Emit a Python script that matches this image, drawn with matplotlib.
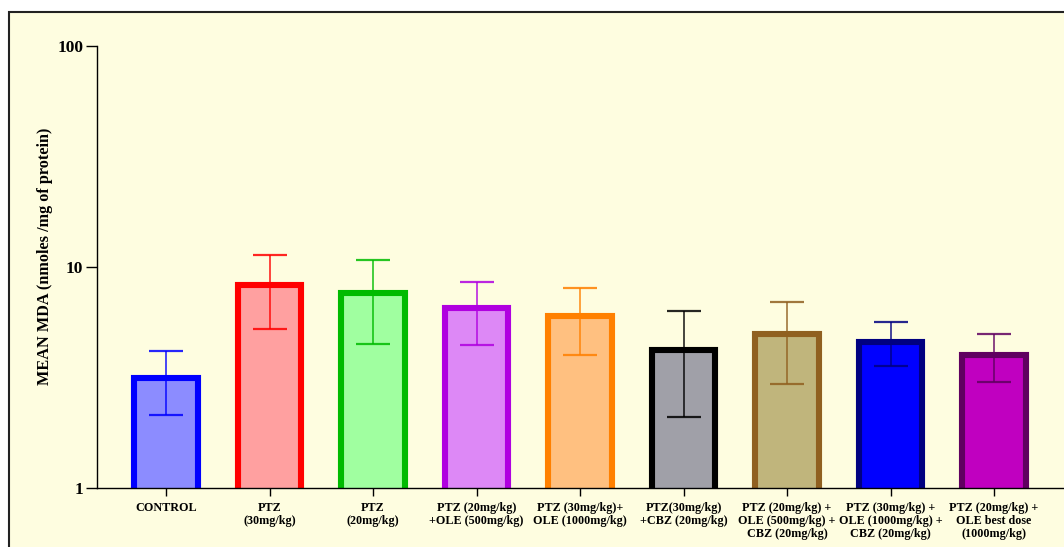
import numpy as np
import matplotlib.pyplot as plt
from matplotlib.patches import Rectangle

plt.rcParams['font.family'] = ['Liberation Serif', 'DejaVu Serif']
plt.rcParams['font.weight'] = 'bold'

groups = ["CONTROL", "PTZ\n(30mg/kg)", "PTZ\n(20mg/kg)",
          "PTZ (20mg/kg)\n+OLE (500mg/kg)", "PTZ (30mg/kg)+\nOLE (1000mg/kg)",
          "PTZ(30mg/kg)\n+CBZ (20mg/kg)",
          "PTZ (20mg/kg) +\nOLE (500mg/kg) +\nCBZ (20mg/kg)",
          "PTZ (30mg/kg) +\nOLE (1000mg/kg) +\nCBZ (20mg/kg)",
          "PTZ (20mg/kg) +\nOLE best dose\n(1000mg/kg)"]
mean_mda = [3.15, 8.3, 7.6, 6.5, 6.0, 4.2, 4.95, 4.6, 4.0]
sd_mda = [1.02, 3.05, 3.13, 2.08, 2.0, 2.1, 2.0, 1.04, 0.98]

fills = ["#8c8cff", "#ffa0a0", "#a0ffa0", "#dd88f6", "#ffc080",
         "#a0a0a8", "#c0b57c", "#0000ff", "#c000c0"]
edges = ["#0000ff", "#ff0000", "#00bb00", "#b000e0", "#ff8000",
         "#000000", "#906020", "#000080", "#600060"]

fig = plt.figure(figsize=(10.64, 5.47), dpi=100)
fig.patch.set_facecolor("white")
# pale yellow panel behind the plot
fig.patches.append(Rectangle((9 / 1064, -0.05), 1.1, (547 - 12) / 547 + 0.05,
                             transform=fig.transFigure, facecolor="#fefde0",
                             edgecolor="#222222", linewidth=1.5, zorder=-10))

ax = fig.add_axes([97 / 1064, 59 / 547, 1 - 97 / 1064, (488 - 46) / 547])
ax.set_facecolor("none")

x = np.arange(len(groups))
ax.bar(x, mean_mda, width=0.61, color=fills, edgecolor=edges, linewidth=4.4, zorder=2)
for i in x:
    ax.errorbar(i, mean_mda[i], yerr=sd_mda[i], color=edges[i], elinewidth=1.2,
                capsize=12.5, capthick=1.6, fmt="none", alpha=0.85, zorder=3)

ax.set_yscale("log")
ax.set_ylim(1, 100)
ax.set_xlim(-0.667, 8.676)
ax.set_yticks([1, 10, 100])
ax.set_yticklabels(["1", "10", "100"], fontsize=12.5, fontweight="bold")
ax.yaxis.set_minor_locator(plt.NullLocator())
ax.set_xticks(x)
ax.set_xticklabels(groups, fontsize=8.7, fontweight="bold", linespacing=1.12)
ax.tick_params(axis="y", length=8, width=1, pad=2)
ax.tick_params(axis="x", length=6, width=1, pad=4)
ax.set_ylabel("MEAN MDA (nmoles /mg of protein)", fontsize=11.7, fontweight="bold")
ax.yaxis.set_label_coords(-0.046, 0.525)

for s in ["top", "right"]:
    ax.spines[s].set_visible(False)
ax.spines["left"].set_linewidth(1)
ax.spines["bottom"].set_linewidth(1)

fig.savefig("out.png", dpi=100)
